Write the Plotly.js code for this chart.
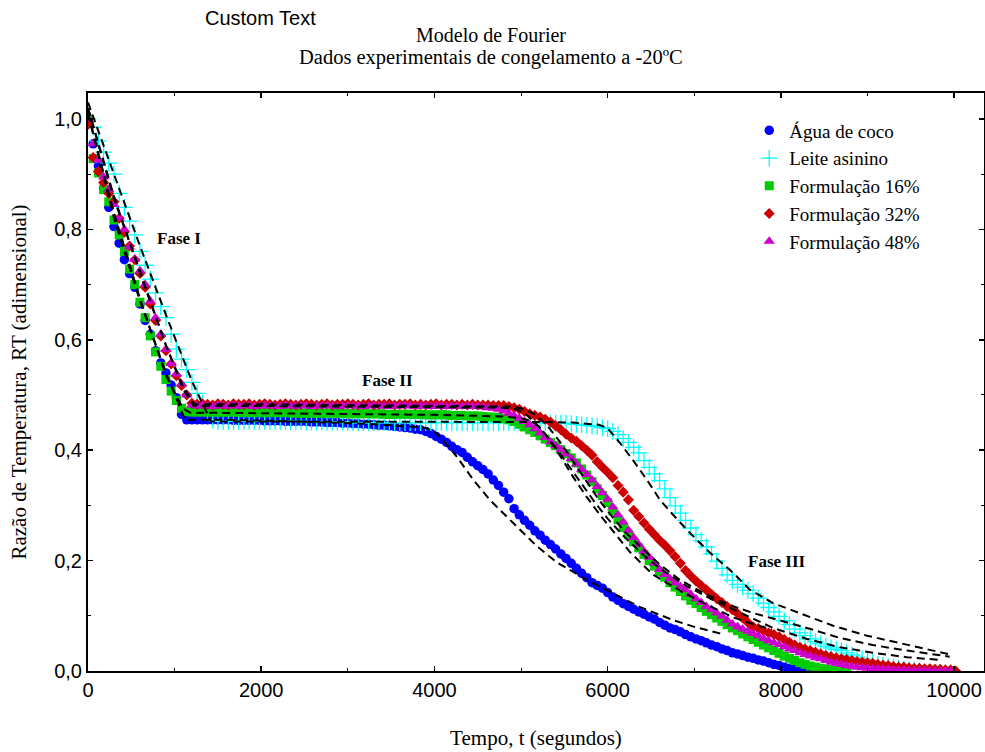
<!DOCTYPE html>
<html><head><meta charset="utf-8">
<script src="https://cdn.plot.ly/plotly-3.0.1.min.js"></script>
<style>html,body{margin:0;padding:0;background:#fff}#chart{width:985px;height:752px}</style>
</head><body><div id="chart"></div>
<script>
// sampling times (s)
const tempo = [
0,60,120,180,240,300,360,420,480,540,
600,660,720,780,840,900,960,1020,1080,1140,
1200,1260,1320,1380,1440,1500,1560,1620,1680,1740,
1800,1860,1920,1980,2040,2100,2160,2220,2280,2340,
2400,2460,2520,2580,2640,2700,2760,2820,2880,2940,
3000,3060,3120,3180,3240,3300,3360,3420,3480,3540,
3600,3660,3720,3780,3840,3900,3960,4020,4080,4140,
4200,4260,4320,4380,4440,4500,4560,4620,4680,4740,
4800,4860,4920,4980,5040,5100,5160,5220,5280,5340,
5400,5460,5520,5580,5640,5700,5760,5820,5880,5940,
6000,6060,6120,6180,6240,6300,6360,6420,6480,6540,
6600,6660,6720,6780,6840,6900,6960,7020,7080,7140,
7200,7260,7320,7380,7440,7500,7560,7620,7680,7740,
7800,7860,7920,7980,8040,8100,8160,8220,8280,8340,
8400,8460,8520,8580,8640,8700,8760,8820,8880,8940,
9000,9060,9120,9180,9240,9300,9360,9420,9480,9540,
9600,9660,9720,9780,9840,9900,9960,10020];

const aguaCoco = [
1.0,.955,.915,.875,.84,.805,.775,.745,.72,.695,
.665,.635,.61,.58,.558,.54,.518,.495,.465,.455,
.455,.455,.455,.455,.455,.455,.455,.455,.454,.454,
.454,.454,.454,.454,.453,.453,.453,.453,.452,.452,
.452,.452,.452,.451,.451,.451,.450,.450,.450,.449,
.449,.448,.448,.447,.447,.446,.445,.445,.444,.443,
.442,.441,.440,.438,.437,.434,.430,.425,.420,.414,
.407,.401,.396,.387,.379,.372,.365,.357,.346,.336,
.324,.312,.294,.283,.273,.264,.254,.246,.237,.229,
.221,.212,.204,.195,.186,.177,.169,.160,.155,.150,
.142,.134,.128,.122,.117,.112,.107,.103,.098,.094,
.088,.083,.078,.075,.071,.066,.062,.058,.055,.051,
.047,.044,.040,.037,.033,.031,.028,.025,.023,.020,
.018,.015,.012,.010,.007,.005,.004,.003,.002,.001,
.0,.0];

const leiteAsinino = [
1.0,.985,.96,.94,.92,.90,.865,.84,.815,.79,
.76,.735,.71,.685,.66,.64,.61,.583,.565,.546,
.523,.503,.485,.47,.455,.452,.452,.452,.452,.452,
.452,.452,.452,.452,.452,.452,.452,.452,.452,.452,
.452,.452,.451,.451,.451,.451,.451,.451,.451,.451,
.450,.450,.450,.450,.450,.450,.450,.450,.450,.450,
.450,.450,.450,.450,.450,.450,.450,.450,.450,.450,
.450,.450,.450,.450,.450,.450,.450,.450,.450,.450,
.450,.450,.450,.450,.450,.450,.450,.450,.450,.449,
.449,.449,.449,.448,.447,.446,.445,.444,.443,.441,
.439,.434,.428,.421,.414,.405,.395,.381,.369,.357,
.345,.330,.314,.299,.286,.273,.259,.247,.236,.225,
.212,.199,.186,.174,.164,.157,.152,.146,.140,.132,
.123,.115,.107,.099,.091,.084,.076,.069,.064,.058,
.053,.049,.045,.042,.039,.037,.033,.029,.025,.022,
.018,.015,.012,.010,.008,.006,.005,.003,.002,.001,
.0];

const form16 = [
1.0,.928,.902,.872,.85,.817,.79,.76,.728,.70,
.668,.64,.607,.578,.552,.528,.507,.49,.476,.47,
.469,.469,.469,.469,.469,.469,.469,.469,.469,.469,
.468,.468,.468,.468,.468,.468,.468,.468,.468,.468,
.467,.467,.467,.467,.467,.467,.467,.467,.467,.467,
.466,.466,.466,.466,.466,.466,.466,.465,.465,.465,
.465,.465,.465,.465,.465,.464,.464,.464,.464,.464,
.463,.463,.463,.462,.462,.462,.461,.460,.460,.459,
.457,.455,.452,.447,.442,.437,.432,.426,.420,.414,
.408,.401,.394,.386,.377,.366,.355,.343,.330,.318,
.305,.290,.274,.260,.247,.234,.223,.211,.200,.190,
.180,.170,.160,.152,.144,.136,.128,.122,.115,.108,
.102,.096,.090,.084,.078,.073,.067,.062,.057,.052,
.047,.042,.037,.032,.027,.023,.019,.015,.012,.009,
.007,.005,.003,.002,.001,.0,.0];

const form32 = [
.99,.93,.905,.885,.865,.85,.82,.795,.77,.745,
.72,.695,.665,.635,.607,.58,.556,.535,.517,.50,
.485,.483,.484,.483,.482,.484,.483,.482,.484,.483,
.483,.484,.482,.483,.484,.483,.482,.483,.484,.483,
.482,.483,.484,.483,.482,.483,.484,.482,.483,.483,
.484,.483,.482,.483,.484,.482,.483,.483,.484,.482,
.483,.483,.484,.482,.483,.482,.483,.484,.482,.483,
.483,.482,.483,.482,.483,.482,.482,.482,.481,.481,
.481,.479,.477,.474,.470,.466,.463,.460,.456,.451,
.444,.437,.429,.422,.416,.408,.400,.391,.379,.369,
.360,.350,.336,.324,.310,.291,.280,.268,.257,.247,
.237,.228,.218,.207,.195,.182,.172,.163,.155,.147,
.139,.131,.124,.117,.111,.104,.096,.088,.080,.077,
.073,.069,.066,.062,.057,.052,.047,.043,.040,.037,
.034,.031,.028,.026,.024,.022,.021,.019,.017,.016,
.015,.014,.012,.011,.010,.008,.007,.007,.006,.005,
.005,.004,.004,.003,.003,.002,.002,.0];

const form48 = [
1.0,.955,.925,.895,.872,.845,.82,.80,.768,.746,
.725,.70,.67,.64,.61,.583,.557,.538,.52,.50,
.482,.48,.481,.48,.479,.481,.48,.48,.481,.48,
.48,.481,.479,.48,.481,.48,.48,.479,.481,.48,
.48,.48,.481,.479,.48,.48,.481,.48,.479,.48,
.481,.48,.48,.479,.48,.481,.48,.48,.479,.48,
.48,.481,.48,.479,.48,.48,.479,.48,.48,.479,
.48,.479,.479,.48,.479,.479,.478,.477,.476,.474,
.471,.467,.463,.458,.452,.446,.439,.431,.423,.415,
.408,.401,.393,.385,.375,.365,.356,.346,.334,.323,
.311,.297,.283,.270,.255,.242,.229,.217,.206,.195,
.184,.175,.167,.160,.153,.147,.139,.131,.124,.117,
.111,.105,.099,.092,.085,.080,.076,.072,.068,.064,
.059,.055,.051,.048,.044,.040,.037,.033,.030,.027,
.024,.022,.019,.016,.014,.012,.010,.008,.007,.006,
.005,.004,.004,.003,.003,.002,.002,.002,.001,.001,
.001,.001,.0,.0,.0,.0,.0];

// Fourier model fits (dashed)
const fitAguaT = [0,300,600,900,1120,1600,2400,3200,3800,3900,4000,4100,4180,4260,4450,4640,4910,5190,5420,5760,6060,6370,6760,7000,7300];
const fitAguaY = [1.01,.82,.67,.54,.455,.455,.452,.448,.442,.44,.434,.418,.403,.388,.346,.31,.268,.225,.196,.165,.141,.116,.092,.08,.068];
const fitLeiteT = [0,300,600,900,1200,1420,2500,3500,4500,5300,5600,5800,5900,6000,6143,6293,6455,6605,6755,6951,7183,7448,7644,7910,8222,8603,8995,9376,9757,9954];
const fitLeiteY = [1.03,.9,.77,.645,.525,.452,.452,.451,.451,.451,.45,.448,.446,.44,.413,.382,.346,.31,.283,.25,.214,.178,.147,.123,.105,.082,.064,.05,.036,.03];
const fit16T = [0,300,600,900,1100,1180,2000,3000,4000,4800,5000,5100,5200,5300,5450,5600,5760,5910,6110,6260,6520,6840,7150,7450,7680,7900];
const fit16Y = [1.01,.83,.675,.535,.475,.468,.467,.466,.464,.461,.458,.454,.444,.425,.39,.352,.315,.283,.245,.215,.175,.145,.12,.097,.085,.075];
const fit32T = [0,300,600,900,1100,1230,2000,3000,4000,4900,5000,5150,5300,5450,5600,5750,5900,6050,6200,6400,6600,6836,7100,7400,7679,7910,8300,8680,9060,9460,9950];
const fit32Y = [1.02,.855,.725,.59,.515,.483,.483,.482,.481,.479,.476,.466,.445,.415,.38,.345,.31,.28,.252,.222,.193,.165,.142,.12,.105,.095,.078,.06,.047,.037,.026];
const fit48T = [0,300,600,900,1100,1220,2000,3000,4000,4800,4950,5050,5150,5250,5400,5550,5700,5850,6000,6200,6400,6600,6900,7200,7500,7910,8303,8684,9065,9457,9840];
const fit48Y = [1.02,.86,.72,.59,.51,.48,.48,.479,.478,.477,.474,.466,.452,.435,.405,.372,.338,.306,.276,.242,.212,.186,.155,.13,.108,.078,.058,.043,.033,.025,.02];

const seriesNames = ['Água de coco','Leite asinino','Formulação 16%','Formulação 32%','Formulação 48%'];
const xTicks = [0,2000,4000,6000,8000,10000];
const yTicks = [0,0.2,0.4,0.6,0.8,1.0];

const serif = 'Liberation Serif, Times New Roman, serif';
const sans = 'Liberation Sans, Arial, sans-serif';

const traces = [
 {x: tempo.slice(0, aguaCoco.length), y: aguaCoco, name: seriesNames[0], mode:'markers',
  marker:{symbol:'circle', size:9.5, color:'#0000ff'}},
 {x: tempo.slice(0, leiteAsinino.length), y: leiteAsinino, name: seriesNames[1], mode:'markers',
  marker:{symbol:'cross-thin-open', size:12, color:'#00ffff', line:{color:'#00ffff', width:1.3}}},
 {x: tempo.slice(0, form16.length), y: form16, name: seriesNames[2], mode:'markers',
  marker:{symbol:'square', size:9, color:'#00cc00'}},
 {x: tempo.slice(0, form32.length), y: form32, name: seriesNames[3], mode:'markers',
  marker:{symbol:'diamond', size:8.5, color:'#cc0000'}},
 {x: tempo.slice(0, form48.length), y: form48, name: seriesNames[4], mode:'markers',
  marker:{symbol:'triangle-up', size:10, color:'#cc00cc'}}
];
const fits = [[fitAguaT,fitAguaY],[fitLeiteT,fitLeiteY],[fit16T,fit16Y],[fit32T,fit32Y],[fit48T,fit48Y]];
fits.forEach(f => traces.push({x:f[0], y:f[1], mode:'lines', showlegend:false, hoverinfo:'skip',
  line:{color:'#000', width:2, dash:'8px,5px', shape:'linear'}}));

const layout = {
 width:985, height:752,
 margin:{l:88, r:1, t:93, b:81},
 paper_bgcolor:'#fff', plot_bgcolor:'#fff',
 separators:',.',
 showlegend:true,
 legend:{x:0.738, y:0.968, xanchor:'left', yanchor:'top', bgcolor:'rgba(0,0,0,0)',
   font:{family:serif, size:19, color:'#000'}, tracegroupgap:0, itemwidth:30},
 xaxis:{range:[0,10346], tickvals:xTicks, tickformat:'d', ticks:'inside', ticklen:5, tickwidth:1.5, tickcolor:'#000',
   minor:{dtick:1000, tick0:0, ticks:'inside', ticklen:3, tickcolor:'#000', tickwidth:1},
   showline:true, linecolor:'#000', linewidth:2, mirror:'ticks', showgrid:false, zeroline:false,
   tickfont:{family:sans, size:20, color:'#000'},
   title:{text:'Tempo, t (segundos)', font:{family:serif, size:21, color:'#000'}, standoff:30}},
 yaxis:{range:[0,1.047], tickvals:yTicks, tickformat:'.1f', ticks:'inside', ticklen:5, tickwidth:1.5, tickcolor:'#000',
   minor:{dtick:0.1, tick0:0, ticks:'inside', ticklen:3, tickcolor:'#000', tickwidth:1},
   showline:true, linecolor:'#000', linewidth:2, mirror:'ticks', showgrid:false, zeroline:false,
   tickfont:{family:sans, size:20, color:'#000'},
   title:{text:'Razão de Temperatura, RT (adimensional)', font:{family:serif, size:21, color:'#000'}, standoff:22}},
 annotations:[
  {text:'Custom Text', xref:'paper', yref:'paper', x:0.192, y:1.1298, xanchor:'center', yanchor:'middle', showarrow:false,
   font:{family:sans, size:20, color:'#000'}},
  {text:'Modelo de Fourier', xref:'paper', yref:'paper', x:0.4498, y:1.1003, xanchor:'center', yanchor:'middle', showarrow:false,
   font:{family:serif, size:20, color:'#000'}},
  {text:'Dados experimentais de congelamento a -20ºC', xref:'paper', yref:'paper', x:0.4498, y:1.0606, xanchor:'center', yanchor:'middle', showarrow:false,
   font:{family:serif, size:20.5, color:'#000'}},
  {text:'<b>Fase I</b>', x:1051, y:0.783, xref:'x', yref:'y', showarrow:false, font:{family:serif, size:17, color:'#000'}},
  {text:'<b>Fase II</b>', x:3464, y:0.527, xref:'x', yref:'y', showarrow:false, font:{family:serif, size:17, color:'#000'}},
  {text:'<b>Fase III</b>', x:7956, y:0.199, xref:'x', yref:'y', showarrow:false, font:{family:serif, size:17, color:'#000'}}
 ]
};
Plotly.newPlot('chart', traces, layout, {displayModeBar:false, staticPlot:true});
</script></body></html>
